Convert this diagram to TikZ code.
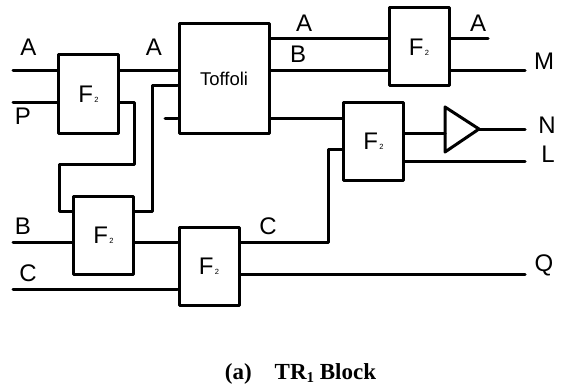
\documentclass[tikz,border=0pt]{standalone}
\usepackage{fontspec}
\setmainfont{Liberation Sans}
\newfontfamily\capfont{Liberation Serif}
\newcommand{\Ftwo}{F{\fontsize{7.5}{7.5}\selectfont\,2}}
\newcommand{\capsub}{\raisebox{-3.5pt}{\fontsize{15}{15}\selectfont 1}}
\tikzset{
  gate/.style={draw,line width=3pt,rectangle,inner sep=0pt,line join=round,fill=white,font=\fontsize{24}{24}\selectfont},
  ftwo/.style={gate,minimum width=60,minimum height=78,node contents={\Ftwo}},
  wire/.style={line width=3pt,line cap=round,line join=round},
  lab/.style={inner sep=0pt,font=\fontsize{24}{24}\selectfont},
}
\begin{document}
\begin{tikzpicture}[x=1pt,y=-1pt]
\useasboundingbox (0,0) rectangle (561,385);
% gates
\node (f1) at (88.5,94) [ftwo];
\node (tof) at (224,78.5) [gate,minimum width=90,minimum height=109,font=\fontsize{18.5}{18.5}\selectfont] {Toffoli};
\node (f2) at (103.5,235) [ftwo];
\node (f3) at (209,266) [ftwo];
\node (f4) at (373.5,141) [ftwo];
\node (f5) at (419,47) [ftwo];
% free ends
\coordinate (ia) at (13,71);
\coordinate (ip) at (13,102);
\coordinate (ib) at (13,242);
\coordinate (ic) at (13,289);
\coordinate (stub) at (165,118);
\coordinate (oa) at (488,39);
\coordinate (om) at (525,71);
\coordinate (on) at (525,129);
\coordinate (ol) at (525,161);
\coordinate (oq) at (525,274);
% routing points
\coordinate (fbl) at (59,164);
\coordinate (fbr) at (134,164);
\coordinate (fbin) at (59,211);
\coordinate (topin) at (152,86);
\coordinate (f2u) at (134,211);
\coordinate (cup) at (328,149);
\coordinate (bin) at (445,133);
% buffer
\coordinate (bt) at (445,107);
\coordinate (bb) at (445,152);
\coordinate (bo) at (479,129);
\draw[wire] (bt) -- (bb) -- (bo) -- cycle;
% wires
\draw[wire] (ia) -- (ia -| f1.west);
\draw[wire] (ip) -- (ip -| f1.west);
\draw[wire] (ib) -- (ib -| f2.west);
\draw[wire] (ic) -- (ic -| f3.west);
\draw[wire] (stub) -- (stub -| tof.west);
\draw[wire] (ia -| f1.east) -- (ia -| tof.west);
\draw[wire] (ip -| f1.east) -| (fbr) -- (fbl) -- (fbin) -- (fbin -| f2.west);
\draw[wire] (f2u) -| (topin) -- (topin -| tof.west);
\draw[wire] (ib -| f2.east) -- (ib -| f3.west);
\draw[wire] (ib -| f3.east) -| (cup) -- (cup -| f4.west);
\draw[wire] (oq -| f3.east) -- (oq);
\draw[wire] (stub -| tof.east) -- (stub -| f4.west);
\draw[wire] (oa -| tof.east) -- (oa -| f5.west);
\draw[wire] (om -| tof.east) -- (om -| f5.west);
\draw[wire] (oa -| f5.east) -- (oa);
\draw[wire] (om -| f5.east) -- (om);
\draw[wire] (bin -| f4.east) -- (bin);
\draw[wire] (bo) -- (on);
\draw[wire] (ol -| f4.east) -- (ol);
% labels
\node[lab] (la) at (28.5,47.5) {A};
\node[lab] (lp) at (23,116.5) {P};
\node[lab] (la2) at (154,47.5) {A};
\node[lab] (la3) at (304,23) {A};
\node[lab] (lb2) at (298,54) {B};
\node[lab] (la4) at (478,23) {A};
\node[lab] (lm) at (544,61) {M};
\node[lab] (ln) at (547,125) {N};
\node[lab] (ll) at (548,154) {L};
\node[lab] (lb) at (23,226) {B};
\node[lab] (lc) at (28,273) {C};
\node[lab] (lc2) at (268,226) {C};
\node[lab] (lq) at (544,265) {Q};
\node[inner sep=0pt,anchor=base,font=\capfont\bfseries\fontsize{23}{23}\selectfont] (cap) at (300.5,379) {(a)\hspace{23pt}TR\capsub{} Block};
\end{tikzpicture}
\end{document}
